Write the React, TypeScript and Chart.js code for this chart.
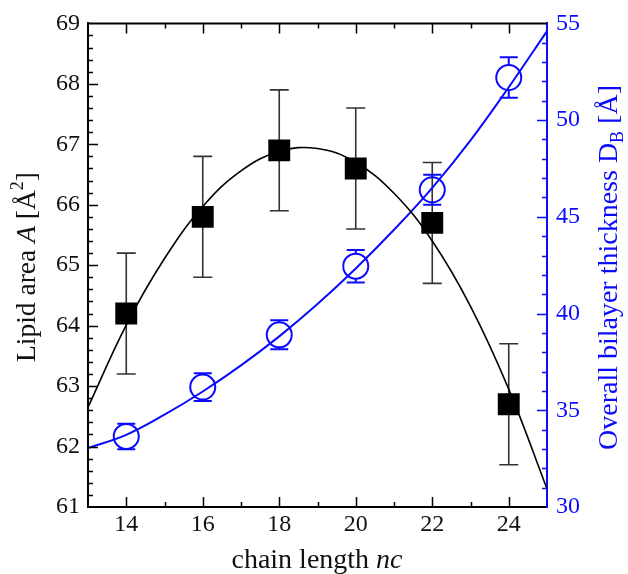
import { useEffect, useRef } from 'react';
import { Chart, registerables } from 'chart.js';

Chart.register(...registerables);

// ---- data ----
const chainLength = [14, 16, 18, 20, 22, 24];
const lipidArea = [64.2, 65.8, 66.9, 66.6, 65.7, 62.7];
const lipidAreaErr = [1.0, 1.0, 1.0, 1.0, 1.0, 1.0];
const thickness = [33.65, 36.2, 38.9, 42.45, 46.4, 52.2];
const thicknessErr = [0.66, 0.72, 0.75, 0.84, 0.78, 1.05];

const fitX = [13, 14, 15, 16, 17, 18, 19, 20, 21, 22, 23, 24, 25];
const fitArea = [62.65, 64.01, 65.11, 65.97, 66.56, 66.88, 66.93, 66.7, 66.19, 65.4, 64.32, 62.95, 61.3];
const fitThickness = [33.05, 33.73, 34.77, 35.97, 37.32, 38.82, 40.49, 42.33, 44.33, 46.5, 48.95, 51.7, 54.6];

const xTicks = [14, 16, 18, 20, 22, 24];
const areaTicks = [61, 62, 63, 64, 65, 66, 67, 68, 69];
const thicknessTicks = [30, 35, 40, 45, 50, 55];

const BLUE = '#0a0aff';
const FONT = "'Liberation Serif', 'Times New Roman', serif";

type Run = { text: string; size: number; italic?: boolean; dy?: number };

function runsWidth(ctx: CanvasRenderingContext2D, runs: Run[]) {
  let w = 0;
  for (const r of runs) {
    ctx.font = `${r.italic ? 'italic ' : ''}${r.size}px ${FONT}`;
    w += ctx.measureText(r.text).width;
  }
  return w;
}

function drawRuns(ctx: CanvasRenderingContext2D, runs: Run[], cx: number, cy: number, rot: number, color: string) {
  ctx.save();
  ctx.translate(cx, cy);
  ctx.rotate(rot);
  const w = runsWidth(ctx, runs);
  ctx.fillStyle = color;
  ctx.textBaseline = 'alphabetic';
  ctx.textAlign = 'left';
  let x = -w / 2;
  for (const r of runs) {
    ctx.font = `${r.italic ? 'italic ' : ''}${r.size}px ${FONT}`;
    ctx.fillText(r.text, x, r.dy || 0);
    x += ctx.measureText(r.text).width;
  }
  ctx.restore();
}

const decorPlugin = {
  id: 'decor',
  beforeDatasetsDraw(chart: any) {
    const ctx: CanvasRenderingContext2D = chart.ctx;
    const xs = chart.scales.x, ys = chart.scales.y, y2 = chart.scales.y2;
    ctx.save();
    // black error bars
    ctx.strokeStyle = '#333';
    ctx.lineWidth = 1.6;
    chainLength.forEach((c, i) => {
      const px = xs.getPixelForValue(c);
      const t = ys.getPixelForValue(lipidArea[i] + lipidAreaErr[i]);
      const b = ys.getPixelForValue(lipidArea[i] - lipidAreaErr[i]);
      ctx.beginPath();
      ctx.moveTo(px, t); ctx.lineTo(px, b);
      ctx.moveTo(px - 9.5, t); ctx.lineTo(px + 9.5, t);
      ctx.moveTo(px - 9.5, b); ctx.lineTo(px + 9.5, b);
      ctx.stroke();
    });
    // blue error bars (outside the open circle)
    ctx.strokeStyle = BLUE;
    ctx.lineWidth = 2;
    const r = 12.5;
    chainLength.forEach((c, i) => {
      const px = xs.getPixelForValue(c);
      const cy = y2.getPixelForValue(thickness[i]);
      const t = y2.getPixelForValue(thickness[i] + thicknessErr[i]);
      const b = y2.getPixelForValue(thickness[i] - thicknessErr[i]);
      ctx.beginPath();
      if (t < cy - r) { ctx.moveTo(px, t); ctx.lineTo(px, cy - r); }
      if (b > cy + r) { ctx.moveTo(px, b); ctx.lineTo(px, cy + r); }
      ctx.moveTo(px - 9, t); ctx.lineTo(px + 9, t);
      ctx.moveTo(px - 9, b); ctx.lineTo(px + 9, b);
      ctx.stroke();
    });
    ctx.restore();
  },
  afterDraw(chart: any) {
    const ctx: CanvasRenderingContext2D = chart.ctx;
    const { left, right, top, bottom } = chart.chartArea;
    const xs = chart.scales.x, ys = chart.scales.y, y2 = chart.scales.y2;
    ctx.save();
    ctx.strokeStyle = '#000';
    ctx.lineWidth = 2;
    ctx.beginPath();
    ctx.moveTo(left - 1, top); ctx.lineTo(right, top);
    ctx.stroke();
    ctx.lineWidth = 1.5;
    ctx.beginPath();
    for (let v = 14; v <= 24; v++) {
      const px = Math.round(xs.getPixelForValue(v)) + 0.5;
      const len = v % 2 === 0 ? 10 : 5;
      ctx.moveTo(px, bottom); ctx.lineTo(px, bottom - len);
      ctx.moveTo(px, top); ctx.lineTo(px, top + len);
    }
    for (let k = 1; k < 40; k++) {
      const v = 61 + k * 0.2;
      const py = Math.round(ys.getPixelForValue(v)) + 0.5;
      const len = k % 5 === 0 ? 10 : 5;
      ctx.moveTo(left, py); ctx.lineTo(left + len, py);
    }
    ctx.stroke();
    ctx.strokeStyle = BLUE;
    ctx.beginPath();
    for (let v = 31; v < 55; v++) {
      const py = Math.round(y2.getPixelForValue(v)) + 0.5;
      const len = v % 5 === 0 ? 10 : 5;
      ctx.moveTo(right, py); ctx.lineTo(right - len, py);
    }
    ctx.stroke();
    ctx.restore();

    // axis titles
    drawRuns(ctx, [
      { text: 'chain length ', size: 28 },
      { text: 'nc', size: 28, italic: true },
    ], 317, 568, 0, '#111');
    drawRuns(ctx, [
      { text: 'Lipid area ', size: 27.5 },
      { text: 'A', size: 27.5, italic: true },
      { text: ' [Å', size: 27.5 },
      { text: '2', size: 18, dy: -12 },
      { text: ']', size: 27.5 },
    ], 35, 267, -Math.PI / 2, '#111');
    drawRuns(ctx, [
      { text: 'Overall bilayer thickness D', size: 28 },
      { text: 'B', size: 18, dy: 6 },
      { text: ' [Å]', size: 28 },
    ], 617, 267.5, -Math.PI / 2, BLUE);
  },
};

export default function App() {
  const ref = useRef<HTMLCanvasElement | null>(null);
  useEffect(() => {
    document.body.style.margin = '0';
    const canvas = ref.current;
    if (!canvas) return;
    const chart = new Chart(canvas, {
      type: 'line',
      data: {
        datasets: [
          {
            type: 'scatter',
            label: 'A',
            data: chainLength.map((c, i) => ({ x: c, y: lipidArea[i] })),
            yAxisID: 'y',
            pointStyle: 'rect',
            pointRadius: 15.5,
            pointBackgroundColor: '#000',
            pointBorderWidth: 0,
            showLine: false,
          } as any,
          {
            type: 'scatter',
            label: 'DB',
            data: chainLength.map((c, i) => ({ x: c, y: thickness[i] })),
            yAxisID: 'y2',
            pointStyle: 'circle',
            pointRadius: 12.5,
            pointBackgroundColor: 'rgba(0,0,0,0)',
            pointBorderColor: BLUE,
            pointBorderWidth: 2,
            showLine: false,
          } as any,
          {
            type: 'line',
            label: 'fitA',
            data: fitX.map((x, i) => ({ x, y: fitArea[i] })),
            yAxisID: 'y',
            borderColor: '#000',
            borderWidth: 1.6,
            pointRadius: 0,
            tension: 0.4,
          },
          {
            type: 'line',
            label: 'fitD',
            data: fitX.map((x, i) => ({ x, y: fitThickness[i] })),
            yAxisID: 'y2',
            borderColor: BLUE,
            borderWidth: 2,
            pointRadius: 0,
            tension: 0.4,
          },
        ],
      },
      options: {
        responsive: false,
        animation: false,
        devicePixelRatio: 1,
        layout: { padding: { top: 23, left: 0, right: 0, bottom: 0 } },
        plugins: { legend: { display: false }, tooltip: { enabled: false } },
        scales: {
          x: {
            type: 'linear',
            min: 13,
            max: 25,
            position: 'bottom',
            grid: { display: false, drawTicks: false },
            border: { display: true, color: '#000', width: 2 },
            ticks: { color: '#111', font: { family: FONT, size: 24 }, padding: 3, maxRotation: 0 },
            afterBuildTicks: (s: any) => { s.ticks = xTicks.map((v) => ({ value: v })); },
            afterFit: (s: any) => { s.height = 67; },
          },
          y: {
            type: 'linear',
            min: 61,
            max: 69,
            position: 'left',
            grid: { display: false, drawTicks: false },
            border: { display: true, color: '#000', width: 2 },
            ticks: { color: '#111', font: { family: FONT, size: 24 }, padding: 8 },
            afterBuildTicks: (s: any) => { s.ticks = areaTicks.map((v) => ({ value: v })); },
            afterFit: (s: any) => { s.width = 88; },
          },
          y2: {
            type: 'linear',
            min: 30,
            max: 55,
            position: 'right',
            grid: { display: false, drawTicks: false },
            border: { display: true, color: BLUE, width: 2 },
            ticks: { color: BLUE, font: { family: FONT, size: 24 }, padding: 9 },
            afterBuildTicks: (s: any) => { s.ticks = thicknessTicks.map((v) => ({ value: v })); },
            afterFit: (s: any) => { s.width = 81; },
          },
        },
      },
      plugins: [decorPlugin],
    });
    return () => chart.destroy();
  }, []);
  return <canvas ref={ref} width={628} height={574} style={{ display: 'block' }} />;
}
